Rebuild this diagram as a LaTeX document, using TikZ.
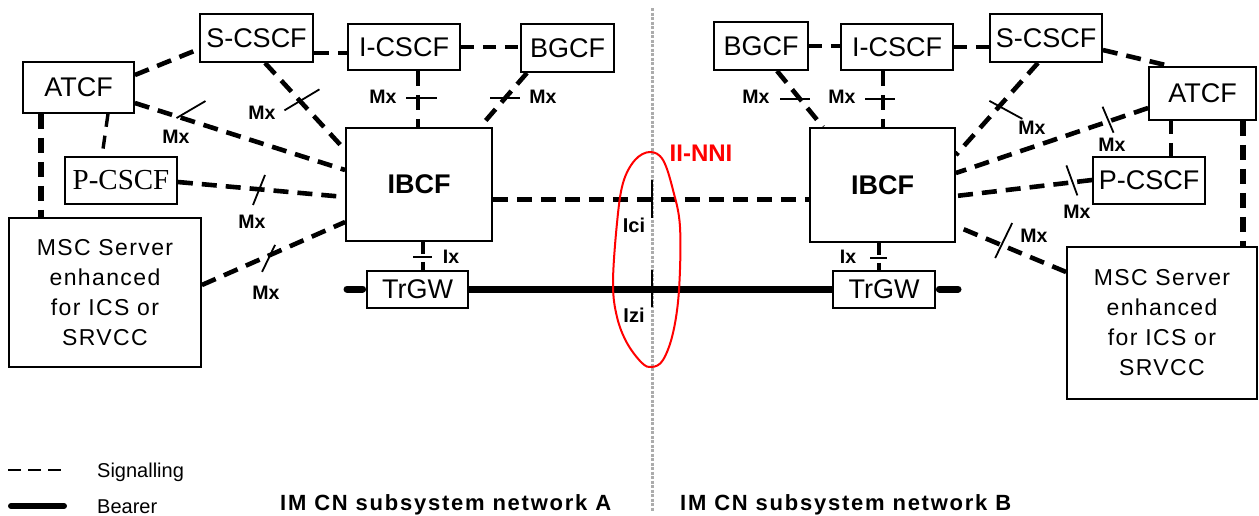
\documentclass[tikz,border=0pt]{standalone}
\usepackage{fontspec}
\setmainfont{Liberation Sans}
\newfontfamily\serifP{Liberation Serif}
\usetikzlibrary{calc}
\begin{document}
\begin{tikzpicture}[x=1pt,y=-1pt,
  box/.style 2 args={draw, line width=1.8pt, fill=white, minimum width=#1pt, minimum height=#2pt, inner sep=0pt, align=center, font=\fontsize{27}{30}\selectfont},
  bold/.style={font=\bfseries\fontsize{27}{30}\selectfont},
  msc/.style={font=\addfontfeature{LetterSpace=6}\fontsize{23}{30}\selectfont},
  sig/.style={line width=4.6pt, dash pattern=on 15pt off 9pt},
  sigthin/.style={line width=3.4pt, dash pattern=on 13pt off 9pt},
  tick/.style={line width=1.8pt},
  mx/.style={font=\bfseries\fontsize{19.5}{19.5}\selectfont, inner sep=0pt},
  bearer/.style={line width=7pt},
  netlbl/.style={font=\bfseries\addfontfeature{LetterSpace=8}\fontsize{22}{22}\selectfont, inner sep=0pt, anchor=base west}]
\useasboundingbox (0,0) rectangle (1259,515);

% divider
\draw[gray!65, line width=3pt, dash pattern=on 3pt off 1.5pt] (652,8) -- (652,512);

% left nodes
\node[box={113}{48}] (scscfL) at (256.5,38) {S-CSCF};
\node[box={111}{51}] (atcfL) at (78.5,87.5) {ATCF};
\node[box={112}{47}, font=\serifP\fontsize{29}{30}\selectfont] (pcscfL) at (121,180.5) {P-CSCF};
\node[box={192}{149}, msc] (mscL) at (105,292.5) {MSC Server\\enhanced\\for ICS or\\SRVCC};
\node[box={112}{46}] (icscfL) at (404,47) {I-CSCF};
\node[box={93}{48}] (bgcfL) at (567.5,48) {BGCF};
\node[box={146}{113}, bold] (ibcfL) at (419,184.5) {IBCF};
\node[box={101}{37}] (trgwL) at (417.5,289.5) {TrGW};

% right nodes
\node[box={94}{48}] (bgcfR) at (761,46) {BGCF};
\node[box={112}{46}] (icscfR) at (897,47) {I-CSCF};
\node[box={112}{48}] (scscfR) at (1046,38) {S-CSCF};
\node[box={107}{53}] (atcfR) at (1202.5,93.5) {ATCF};
\node[box={112}{47}] (pcscfR) at (1149,180.5) {P-CSCF};
\node[box={190}{152}, msc] (mscR) at (1162,323) {MSC Server\\enhanced\\for ICS or\\SRVCC};
\node[box={145}{114}, bold] (ibcfR) at (882.5,185) {IBCF};
\node[box={102}{37}] (trgwR) at (884,289.5) {TrGW};

% left connectors
\draw[sig] (atcfL.east |- 0,75) -- (scscfL.west |- 0,49);
\draw[sig] (scscfL.east |- 0,53) -- (icscfL.west |- 0,53);
\draw[sigthin] (icscfL.east) -- (bgcfL.west |- icscfL.east);
\draw[sig] (icscfL.south -| 418,0) -- coordinate[pos=0.48] (t4) (ibcfL.north -| 418,0);
\draw[tick] (t4) ++(-12,0) -- ++(31,0);
\node[mx] at (383,97) {Mx};
\draw[sig] (bgcfL.south -| 527,0) -- coordinate[pos=0.46] (t5) (ibcfL.north -| 480,0);
\draw[tick] (t5) ++(-15,0) -- ++(30,0);
\node[mx] at (543,97) {Mx};
\draw[sig] (scscfL.south -| 265,0) -- coordinate[pos=0.43] (t6) (ibcfL.west |- 0,150);
\draw[tick] (t6) ++(-15,10) -- ++(35,-21);
\node[mx] at (262,113) {Mx};
\draw[sig] (atcfL.east |- 0,103) -- coordinate[pos=0.217] (t7) (ibcfL.west |- 0,170);
\draw[tick] (t7) ++(-4,0.5) -- ++(29,-17);
\node[mx] at (176,137) {Mx};
\draw[sig] (pcscfL.east |- 0,182) -- coordinate[pos=0.485] (t8) (ibcfL.west |- 0,197);
\draw[tick] (t8) ++(-6,15.7) -- ++(12,-30);
\node[mx] at (252,222) {Mx};
\draw[sig] (mscL.east |- 0,285) -- coordinate[pos=0.462] (t9) (ibcfL.west |- 0,222);
\draw[tick] (t9) ++(-6,16) -- ++(13,-27);
\node[mx] at (266,293) {Mx};
\draw[sigthin] (atcfL.south -| 108,0) -- (pcscfL.north -| 102,0);
\draw[sig, line width=5.5pt] (atcfL.south -| 41,0) -- (mscL.north -| 41,0);

% Ix left
\draw[sig, dash pattern=on 12pt off 8pt] (ibcfL.south -| 423,0) -- coordinate[pos=0.53] (ixl) (trgwL.north -| 423,0);
\draw[tick] (ixl) ++(-10,0) -- ++(19,0);
\node[mx] at (451,257) {Ix};

% right connectors
\draw[sigthin] (bgcfR.east) -- (icscfR.west |- bgcfR.east);
\draw[sigthin] (icscfR.east) -- (scscfR.west |- icscfR.east);
\draw[sig] (icscfR.south -| 883,0) -- coordinate[pos=0.5] (r3) (ibcfR.north -| 883,0);
\draw[tick] (r3) ++(-18,0) -- ++(30,0);
\node[mx] at (842,97) {Mx};
\draw[sig] (bgcfR.south -| 777,0) -- coordinate[pos=0.5] (r4) (ibcfR.north -| 823,0);
\draw[tick] (r4) ++(-20,0) -- ++(30,0);
\node[mx] at (756,97) {Mx};
\draw[sig] (scscfR.east |- 0,50) -- (atcfR.north -| 1170,0);
\draw[sig] (scscfR.south -| 1038,0) -- coordinate[pos=0.434] (r6) (ibcfR.east |- 0,155);
\draw[tick] (r6) ++(-13,-2) -- ++(33,18);
\node[mx] at (1032,128) {Mx};
\draw[sig] (atcfR.west |- 0,108) -- coordinate[pos=0.211] (r7) (ibcfR.east |- 0,173);
\draw[tick] (r7) ++(-5,-15) -- ++(11,26);
\node[mx] at (1112,145) {Mx};
\draw[sig] (pcscfR.west |- 0,180) -- coordinate[pos=0.152] (r8) (ibcfR.east |- 0,196);
\draw[tick] (r8) ++(-5,-17) -- ++(11,30);
\node[mx] at (1077,212) {Mx};
\draw[sig] (mscR.west |- 0,272) -- coordinate[pos=0.598] (r9) (ibcfR.east |- 0,226);
\draw[tick] (r9) ++(-5,13.5) -- ++(17,-35);
\node[mx] at (1034,236) {Mx};
\draw[sigthin] (atcfR.south -| 1171,0) -- (pcscfR.north -| 1171,0);
\draw[sig, line width=5.5pt] (atcfR.south -| 1243,0) -- (mscR.north -| 1243,0);

% Ix right
\draw[sig, dash pattern=on 12pt off 8pt] (ibcfR.south -| 879,0) -- coordinate[pos=0.55] (ixr) (trgwR.north -| 879,0);
\draw[tick] (ixr) ++(-9,0) -- ++(17,0);
\node[mx] at (848,257) {Ix};

% IBCF - IBCF signalling
\draw[sig, line width=5pt] (ibcfL.east |- 0,199) -- (ibcfR.west |- 0,199);

% bearer
\coordinate (bl) at (347,289);
\coordinate (br) at (958,289);
\draw[bearer, line cap=round, shorten >=3.5pt] (bl) -- (trgwL.west |- bl);
\draw[bearer] (trgwL.east |- bl) -- (trgwR.west |- bl);
\draw[bearer, line cap=round, shorten <=3.5pt] (trgwR.east |- bl) -- (br);

% II-NNI
\draw[line width=2.5pt] (652,180) -- (652,218);
\draw[line width=2.5pt] (652,270) -- (652,307);
\node[mx, font=\bfseries\fontsize{20}{20}\selectfont] at (634,225) {Ici};
\node[mx, font=\bfseries\fontsize{20}{20}\selectfont] at (634,315) {Izi};
\draw[red, line width=2pt] plot[smooth cycle, tension=0.6] coordinates {(650,152) (663,160) (673,190) (680,227) (679,290) (673,333) (663,360) (652,367) (642,363) (627,343) (617,317) (613,283) (617,223) (623,183) (635,160)};
\node[red, font=\bfseries\fontsize{24}{24}\selectfont, inner sep=0pt] at (701,153) {II-NNI};

% legend
\draw[line width=2pt, dash pattern=on 13pt off 7pt] (8,470) -- (62,470);
\node[anchor=base west, inner sep=0pt, font=\fontsize{20}{20}\selectfont] at (97,477) {Signalling};
\draw[line width=6pt, line cap=round] (11,506) -- (64,506);
\node[anchor=base west, inner sep=0pt, font=\fontsize{20}{20}\selectfont] at (97,513) {Bearer};
\node[netlbl] at (280,510) {IM CN subsystem network A};
\node[netlbl] at (680,510) {IM CN subsystem network B};
\end{tikzpicture}
\end{document}
